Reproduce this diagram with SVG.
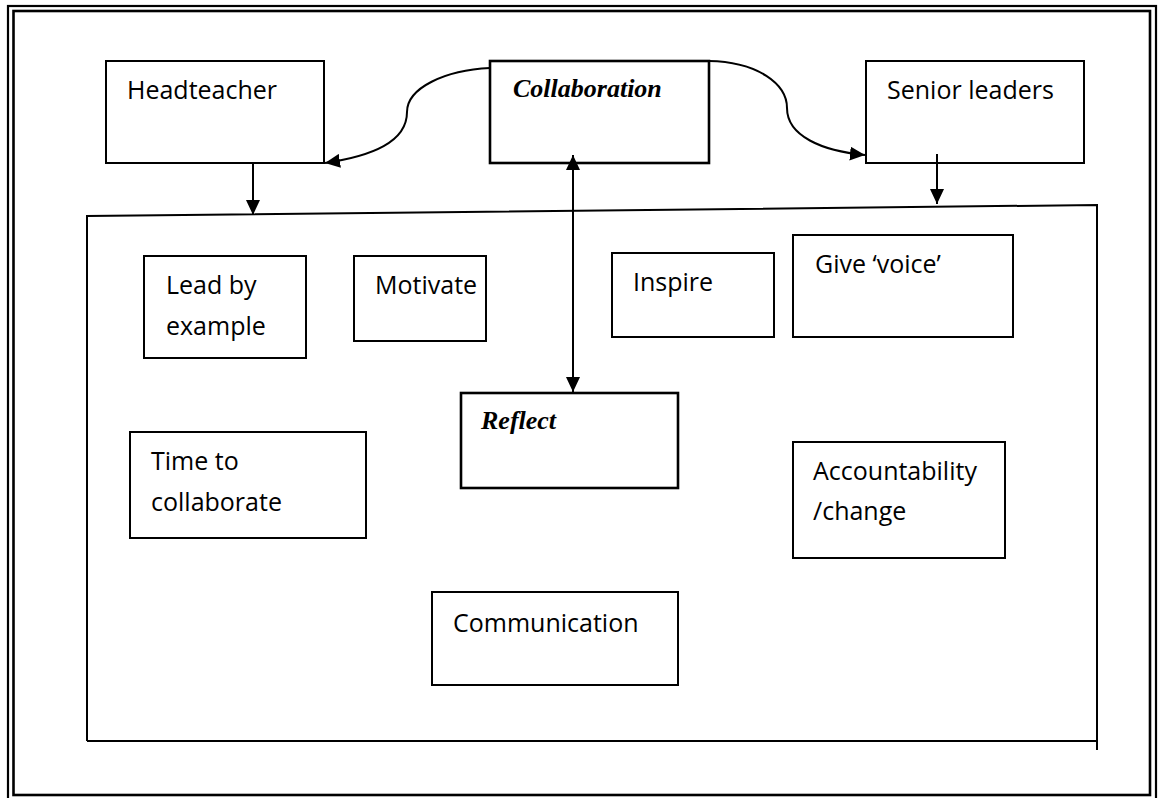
<svg xmlns="http://www.w3.org/2000/svg" width="1162" height="798" viewBox="0 0 1162 798">
<style>
.box{fill:#fff;stroke:#000;stroke-width:2}
.bold{fill:#fff;stroke:#000;stroke-width:2.6}
.t{font-family:"Open Sans","Noto Sans",sans-serif;font-size:25px;fill:#000}
.s{font-family:"Liberation Serif","Times New Roman",serif;font-size:26px;font-weight:bold;font-style:italic;fill:#000}
.c{fill:none;stroke:#000;stroke-width:2}
</style>
<defs>
<marker id="ah" viewBox="0 0 15 14" refX="15" refY="7" markerWidth="15" markerHeight="14" markerUnits="userSpaceOnUse" orient="auto-start-reverse">
<path d="M0,0 L15,7 L0,14 Z" fill="#000"/>
</marker>
</defs>
<rect width="1162" height="798" fill="#fff"/>
<g id="frame" fill="none" stroke="#000">
<rect x="8" y="6" width="1148" height="800" stroke-width="2.2"/>
<rect x="13.5" y="11" width="1136.5" height="784" stroke-width="2.6"/>
</g>
<g id="container" fill="none" stroke="#000" stroke-width="2">
<path d="M87,741 L87,216 L1097,205 L1097,750"/>
<path d="M87,741 L1097,741"/>
</g>
<g id="headteacher"><rect class="box" x="106" y="61" width="218" height="102"/><text class="t" x="127" y="99">Headteacher</text></g>
<g id="collaboration"><rect class="bold" x="490" y="61" width="219" height="102"/><text class="s" x="513" y="97">Collaboration</text></g>
<g id="senior"><rect class="box" x="866" y="61" width="218" height="102"/><text class="t" x="887" y="99">Senior leaders</text></g>
<g id="lead"><rect class="box" x="144" y="256" width="162" height="102"/><text class="t" x="166" y="294">Lead by</text><text class="t" x="166" y="335">example</text></g>
<g id="motivate"><rect class="box" x="354" y="256" width="132" height="85"/><text class="t" x="375" y="294">Motivate</text></g>
<g id="inspire"><rect class="box" x="612" y="253" width="162" height="84"/><text class="t" x="633" y="291">Inspire</text></g>
<g id="voice"><rect class="box" x="793" y="235" width="220" height="102"/><text class="t" x="815" y="273">Give ‘voice’</text></g>
<g id="reflect"><rect class="bold" x="461" y="393" width="217" height="95"/><text class="s" x="481" y="429">Reflect</text></g>
<g id="time"><rect class="box" x="130" y="432" width="236" height="106"/><text class="t" x="151" y="470">Time to</text><text class="t" x="151" y="511">collaborate</text></g>
<g id="accountability"><rect class="box" x="793" y="442" width="212" height="116"/><text class="t" x="813" y="480">Accountability</text><text class="t" x="813" y="520">/change</text></g>
<g id="communication"><rect class="box" x="432" y="592" width="246" height="93"/><text class="t" x="453" y="632">Communication</text></g>
<g id="connectors">
<path class="c" d="M490,68 C445,70 407,88 407,112 C407,142 372,156 325,163" marker-end="url(#ah)"/>
<path class="c" d="M709,61 C758,62 787,84 787,108 C787,136 822,151 865,155" marker-end="url(#ah)"/>
<path class="c" d="M253,163 L253,215" marker-end="url(#ah)"/>
<path class="c" d="M937,154 L937,204" marker-end="url(#ah)"/>
<path class="c" d="M573,155 L573,392" marker-start="url(#ah)" marker-end="url(#ah)"/>
</g>
</svg>
